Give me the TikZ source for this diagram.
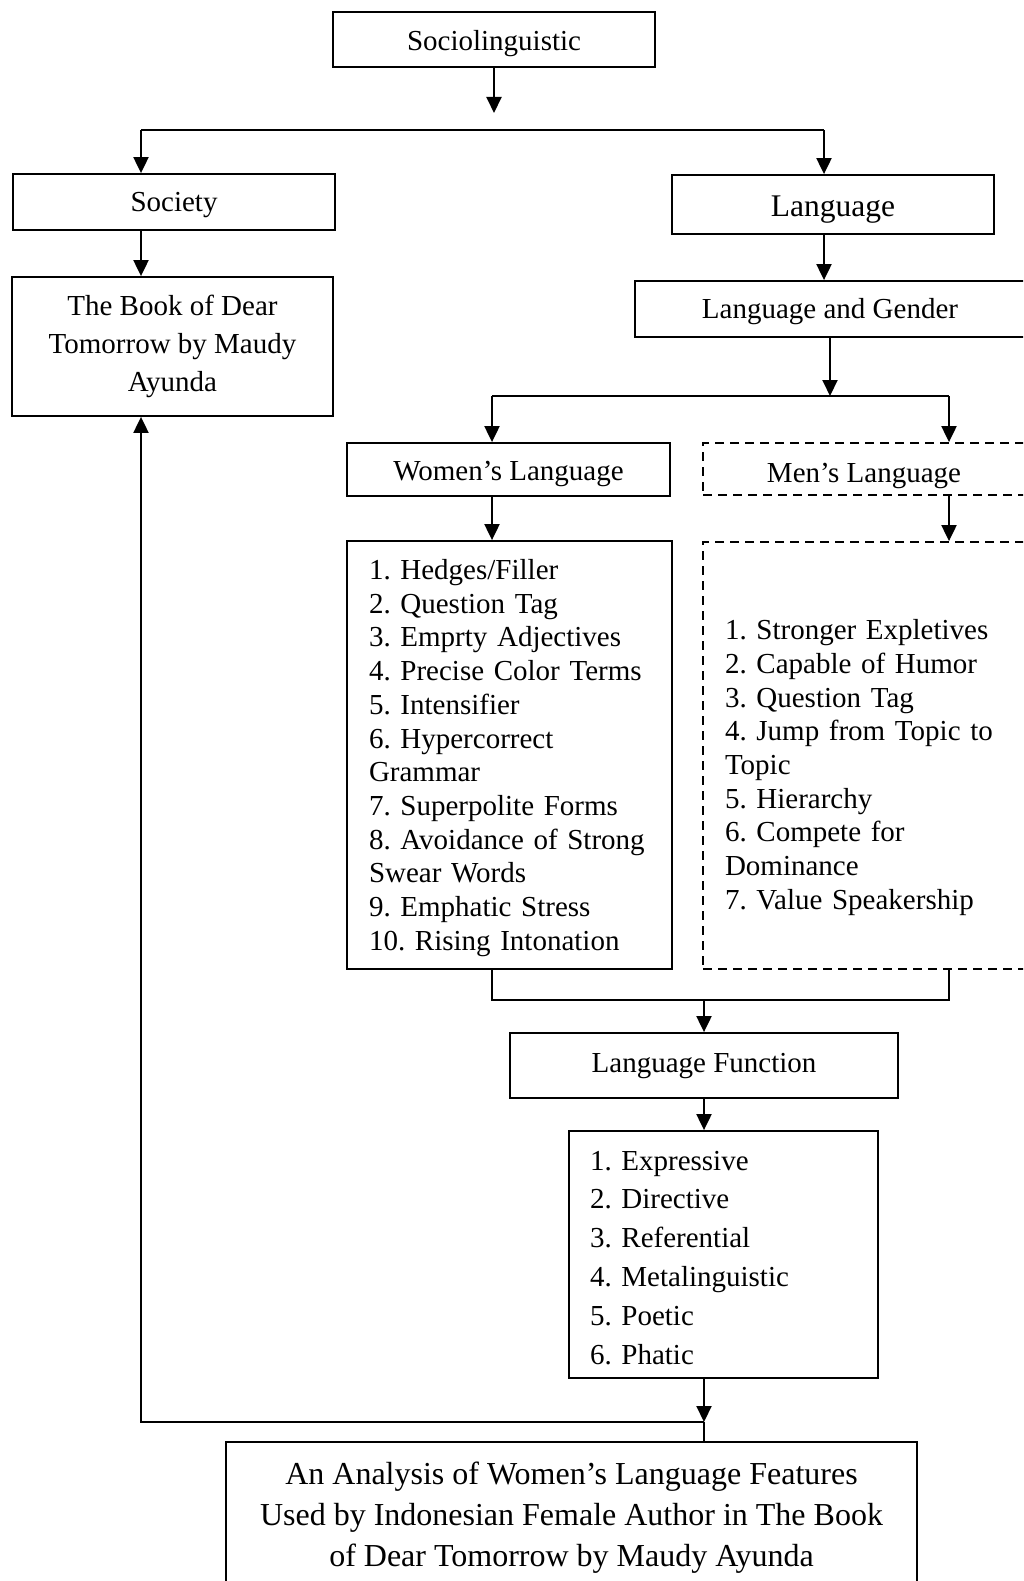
\documentclass[tikz,border=0pt]{standalone}
\usepackage{fontspec}
\setmainfont{Liberation Serif}
\usetikzlibrary{arrows.meta}
\newcommand\normalsz{\fontsize{29}{33.7}\selectfont}
\newcommand\lift[1]{\rule{0pt}{#1}}
\frenchspacing

\begin{document}
\begin{tikzpicture}[x=1pt,y=-1pt,
    box/.style={draw,line width=1.8pt,inner sep=0pt,font=\normalsz,align=center},
    dashbox/.style={box,dash pattern=on 9pt off 6pt},
    listbox/.style={box,align=left,inner xsep=22pt},
    onerow/.style={text height=#1,text depth=6.3pt},
    link/.style={line width=2pt},
    arr/.style={link,-{Triangle[length=16pt,width=15pt]}}]
  \useasboundingbox (0,0) rectangle (1023,1581);
  \clip (0,0) rectangle (1023,1581);
  % Top of the tree
  \node[box,onerow=28pt,minimum width=322pt,minimum height=55pt] (socio) at (494,39.5) {Sociolinguistic};
  \node[box,onerow=26pt,minimum width=322pt,minimum height=56pt] (society) at (174,202) {Society};
  \node[box,text height=31.7pt,text depth=6.8pt,minimum width=322pt,minimum height=59pt,
    font=\fontsize{31.5}{36}\selectfont] (language) at (833,204.5) {Language};
  \node[box,minimum width=321pt,minimum height=139pt,font=\fontsize{29}{38.3}\selectfont]
    (book) at (172.5,346.5) {The Book of Dear\\Tomorrow by Maudy\\Ayunda};
  \node[box,onerow=26pt,minimum width=390pt,minimum height=56pt] (gender) at (830,309) {Language and Gender};
  % Women and men
  \node[box,onerow=28pt,minimum width=323pt,minimum height=53pt] (women) at (508.5,469.5) {Women's Language};
  \node[dashbox,onerow=34pt,minimum width=322pt,minimum height=52pt] (men) at (864,469) {Men's Language};
  \node[listbox,text width=281pt,minimum height=428pt] (women list) at (509.5,755)
    {\lift{26pt}1. Hedges/Filler\\2. Question Tag\\3. Emprty Adjectives\\4. Precise Color Terms\\
     5. Intensifier\\6. Hypercorrect\\Grammar\\7. Superpolite Forms\\
     8. Avoidance of Strong\\Swear Words\\9. Emphatic Stress\\10. Rising Intonation};
  \node[listbox,dash pattern=on 9pt off 6pt,text width=278pt,minimum height=427pt]
    (men list) at (864,755.5)
    {\lift{44pt}1. Stronger Expletives\\2. Capable of Humor\\3. Question Tag\\4. Jump from Topic to\\
     Topic\\5. Hierarchy\\6. Compete for\\Dominance\\7. Value Speakership};
  % Functions and the result
  \node[box,onerow=20pt,minimum width=388pt,minimum height=65pt] (function) at (704,1065.5) {Language Function};
  \node[listbox,inner xsep=21pt,text width=267pt,minimum height=247pt,
    font=\fontsize{29}{38.9}\selectfont] (function list) at (723.5,1254.5)
    {\lift{26pt}1. Expressive\\2. Directive\\3. Referential\\4. Metalinguistic\\5. Poetic\\6. Phatic};
  \node[box,minimum width=691pt,minimum height=144pt,font=\fontsize{32}{41.3}\selectfont]
    (analysis) at (571.5,1514)
    {\lift{30pt}An Analysis of Women's Language Features\\Used by Indonesian Female Author in The Book\\
     of Dear Tomorrow by Maudy Ayunda};
  % Split under Sociolinguistic
  \coordinate (socio tip) at (494,113);
  \coordinate (bar top) at (141,130);
  \coordinate (bar top right) at (824,130);
  \draw[arr] (socio) -- (socio tip);
  \draw[link] (bar top) -- (bar top right);
  \draw[arr] (bar top) -- (bar top |- society.north);
  \draw[arr] (bar top right) -- (bar top right |- language.north);
  \draw[arr] (bar top |- society.south) -- (bar top |- book.north);
  \draw[arr] (bar top right |- language.south) -- (bar top right |- gender.north);
  % Split under Language and Gender
  \coordinate (bar mid) at (492,396);
  \coordinate (bar mid right) at (949,396);
  \draw[arr] (gender.south) -- (gender.south |- bar mid);
  \draw[link] (bar mid) -- (bar mid right);
  \draw[arr] (bar mid) -- (bar mid |- women.north);
  \draw[arr] (bar mid right) -- (bar mid right |- men.north);
  \draw[arr] (bar mid |- women.south) -- (bar mid |- women list.north);
  \draw[arr] (bar mid right |- men.south) -- (bar mid right |- men list.north);
  % Join both lists
  \coordinate (join) at (704,1000);
  \draw[link] (bar mid |- women list.south) |- (join) -| (bar mid right |- men list.south);
  \draw[arr] (join) -- (function.north);
  \draw[arr] (function.south) -- (function.south |- function list.north);
  % Back to the book and down to the result
  \coordinate (bar low) at (704,1422);
  \draw[arr] (bar low |- function list.south) -- (bar low);
  \draw[line width=1.4pt] (bar low) -- (bar low |- analysis.north);
  \draw[arr] (bar low) -- (bar low -| bar top) -- (bar top |- book.south);
\end{tikzpicture}
\end{document}
